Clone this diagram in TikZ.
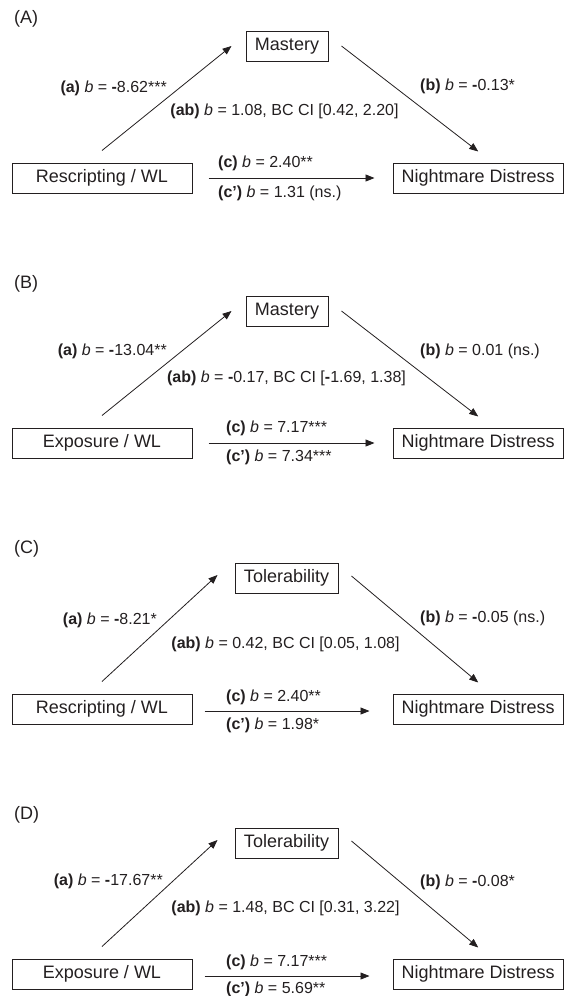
\documentclass[tikz,border=0pt]{standalone}
\usepackage{fontspec}
\setmainfont{Liberation Sans}
\usetikzlibrary{arrows.meta}
\definecolor{ink}{RGB}{35,31,32}
\newcommand\mn{\textbf{-}}
\begin{document}
\begin{tikzpicture}[x=1pt,y=-1pt,
  box/.style={draw=ink, line width=1pt, minimum height=30pt, inner sep=0pt, text=ink, font=\fontsize{18}{21}\selectfont},
  lbl/.style={inner sep=0pt, text=ink, font=\fontsize{16}{19}\selectfont},
  panellbl/.style={inner sep=0pt, text=ink, font=\fontsize{18}{21}\selectfont, anchor=west},
  arr/.style={draw=ink, line width=0.8pt, -{Triangle[length=9pt,width=7pt]}}]
\useasboundingbox (0,0) rectangle (564,996);

% ---------------- Panel A ----------------
\begin{scope}[shift={(0,163)}]
\node[panellbl] (A-lab) at (14,-144) {(A)};
\node[box, minimum width=180pt] (A-x) at (102,15) {Rescripting / WL};
\node[box, minimum width=170.5pt] (A-y) at (478.25,15) {Nightmare Distress};
\node[box, minimum width=82pt] (A-m) at (287,-117) {Mastery};
\draw[arr] ([yshift=12pt]A-x.north) -- ([xshift=-14pt]A-m.west);
\draw[arr] ([xshift=13pt]A-m.east) -- ([yshift=11pt]A-y.north);
\draw[arr] ([xshift=16pt]A-x.east) -- ([xshift=-18pt]A-y.west);
\node[lbl, anchor=east] (A-a) at (167,-75) {\textbf{(a)} \textit{b} = \mn8.62***};
\node[lbl, anchor=west] (A-b) at (420,-77) {\textbf{(b)} \textit{b} = \mn0.13*};
\node[lbl] (A-ab) at (284.5,-52) {\textbf{(ab)} \textit{b} = 1.08, BC CI [0.42, 2.20]};
\node[lbl, anchor=west] (A-c) at (218,0) {\textbf{(c)} \textit{b} = 2.40**};
\node[lbl, anchor=west] (A-cp) at (218,30) {\textbf{(c’)} \textit{b} = 1.31 (ns.)};
\end{scope}

% ---------------- Panel B ----------------
\begin{scope}[shift={(0,428)}]
\node[panellbl] (B-lab) at (14,-144) {(B)};
\node[box, minimum width=180pt] (B-x) at (102,15) {Exposure / WL};
\node[box, minimum width=170.5pt] (B-y) at (478.25,15) {Nightmare Distress};
\node[box, minimum width=82pt] (B-m) at (287,-117) {Mastery};
\draw[arr] ([yshift=12pt]B-x.north) -- ([xshift=-14pt]B-m.west);
\draw[arr] ([xshift=13pt]B-m.east) -- ([yshift=11pt]B-y.north);
\draw[arr] ([xshift=16pt]B-x.east) -- ([xshift=-18pt]B-y.west);
\node[lbl, anchor=east] (B-a) at (167,-77) {\textbf{(a)} \textit{b} = \mn13.04**};
\node[lbl, anchor=west] (B-b) at (420,-77) {\textbf{(b)} \textit{b} = 0.01 (ns.)};
\node[lbl] (B-ab) at (286.5,-50) {\textbf{(ab)} \textit{b} = \mn0.17, BC CI [\mn1.69, 1.38]};
\node[lbl, anchor=west] (B-c) at (226,0) {\textbf{(c)} \textit{b} = 7.17***};
\node[lbl, anchor=west] (B-cp) at (226,29) {\textbf{(c’)} \textit{b} = 7.34***};
\end{scope}

% ---------------- Panel C ----------------
\begin{scope}[shift={(0,694)}]
\node[panellbl] (C-lab) at (14,-145) {(C)};
\node[box, minimum width=180pt] (C-x) at (102,15) {Rescripting / WL};
\node[box, minimum width=170.5pt] (C-y) at (478.25,15) {Nightmare Distress};
\node[box, minimum width=103pt] (C-m) at (286.5,-116) {Tolerability};
\draw[arr] ([yshift=12pt]C-x.north) -- ([xshift=-17pt,yshift=3pt]C-m.west);
\draw[arr] ([xshift=13pt,yshift=2pt]C-m.east) -- ([yshift=11pt]C-y.north);
\draw[arr] ([xshift=12pt,yshift=-2pt]C-x.east) -- ([xshift=-23pt,yshift=-2pt]C-y.west);
\node[lbl, anchor=east] (C-a) at (157,-74) {\textbf{(a)} \textit{b} = \mn8.21*};
\node[lbl, anchor=west] (C-b) at (420,-76) {\textbf{(b)} \textit{b} = \mn0.05 (ns.)};
\node[lbl] (C-ab) at (285.5,-50) {\textbf{(ab)} \textit{b} = 0.42, BC CI [0.05, 1.08]};
\node[lbl, anchor=west] (C-c) at (226,3) {\textbf{(c)} \textit{b} = 2.40**};
\node[lbl, anchor=west] (C-cp) at (226,31) {\textbf{(c’)} \textit{b} = 1.98*};
\end{scope}

% ---------------- Panel D ----------------
\begin{scope}[shift={(0,959)}]
\node[panellbl] (D-lab) at (14,-144) {(D)};
\node[box, minimum width=180pt] (D-x) at (102,15) {Exposure / WL};
\node[box, minimum width=170.5pt] (D-y) at (478.25,15) {Nightmare Distress};
\node[box, minimum width=103pt] (D-m) at (286.5,-116) {Tolerability};
\draw[arr] ([yshift=12pt]D-x.north) -- ([xshift=-17pt,yshift=3pt]D-m.west);
\draw[arr] ([xshift=13pt,yshift=2pt]D-m.east) -- ([yshift=11pt]D-y.north);
\draw[arr] ([xshift=12pt,yshift=-2pt]D-x.east) -- ([xshift=-23pt,yshift=-2pt]D-y.west);
\node[lbl, anchor=east] (D-a) at (163,-78) {\textbf{(a)} \textit{b} = \mn17.67**};
\node[lbl, anchor=west] (D-b) at (420,-77) {\textbf{(b)} \textit{b} = \mn0.08*};
\node[lbl] (D-ab) at (285.5,-51) {\textbf{(ab)} \textit{b} = 1.48, BC CI [0.31, 3.22]};
\node[lbl, anchor=west] (D-c) at (226,3) {\textbf{(c)} \textit{b} = 7.17***};
\node[lbl, anchor=west] (D-cp) at (226,30) {\textbf{(c’)} \textit{b} = 5.69**};
\end{scope}
\end{tikzpicture}
\end{document}
